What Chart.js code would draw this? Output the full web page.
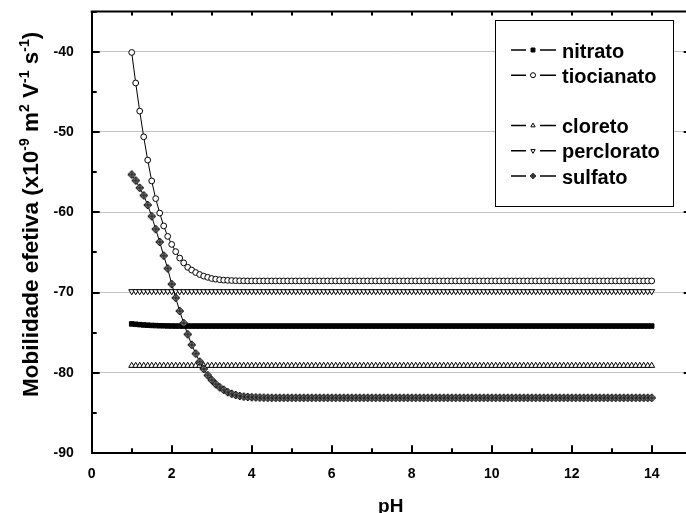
<!DOCTYPE html>
<html>
<head>
<meta charset="utf-8">
<title>Mobilidade efetiva x pH</title>
<script src="https://cdn.jsdelivr.net/npm/chart.js@4.4.1/dist/chart.umd.min.js"></script>
<style>
    html, body { margin: 0; padding: 0; background: #fff; overflow: hidden; }
    canvas { display: block; }
</style>
</head>
<body>
<canvas id="graficoMobilidade" width="700" height="513"></canvas>
<script>
// pH de 1 a 14, passo 0,1
const pH = [
    1.0, 1.1, 1.2, 1.3, 1.4, 1.5, 1.6, 1.7, 1.8, 1.9,
    2.0, 2.1, 2.2, 2.3, 2.4, 2.5, 2.6, 2.7, 2.8, 2.9,
    3.0, 3.1, 3.2, 3.3, 3.4, 3.5, 3.6, 3.7, 3.8, 3.9,
    4.0, 4.1, 4.2, 4.3, 4.4, 4.5, 4.6, 4.7, 4.8, 4.9,
    5.0, 5.1, 5.2, 5.3, 5.4, 5.5, 5.6, 5.7, 5.8, 5.9,
    6.0, 6.1, 6.2, 6.3, 6.4, 6.5, 6.6, 6.7, 6.8, 6.9,
    7.0, 7.1, 7.2, 7.3, 7.4, 7.5, 7.6, 7.7, 7.8, 7.9,
    8.0, 8.1, 8.2, 8.3, 8.4, 8.5, 8.6, 8.7, 8.8, 8.9,
    9.0, 9.1, 9.2, 9.3, 9.4, 9.5, 9.6, 9.7, 9.8, 9.9,
    10.0, 10.1, 10.2, 10.3, 10.4, 10.5, 10.6, 10.7, 10.8, 10.9,
    11.0, 11.1, 11.2, 11.3, 11.4, 11.5, 11.6, 11.7, 11.8, 11.9,
    12.0, 12.1, 12.2, 12.3, 12.4, 12.5, 12.6, 12.7, 12.8, 12.9,
    13.0, 13.1, 13.2, 13.3, 13.4, 13.5, 13.6, 13.7, 13.8, 13.9,
    14.0
];

// mobilidade efetiva (x10^-9 m2 V-1 s-1)
const nitrato = [
    -73.90, -73.95, -73.99, -74.03, -74.06, -74.09, -74.11, -74.13, -74.14, -74.15,
    -74.16, -74.17, -74.17, -74.17, -74.17, -74.17, -74.17, -74.17, -74.17, -74.17,
    -74.17, -74.17, -74.17, -74.17, -74.17, -74.17, -74.17, -74.17, -74.17, -74.17,
    -74.17, -74.17, -74.17, -74.17, -74.17, -74.17, -74.17, -74.17, -74.17, -74.17,
    -74.17, -74.17, -74.17, -74.17, -74.17, -74.17, -74.17, -74.17, -74.17, -74.17,
    -74.17, -74.17, -74.17, -74.17, -74.17, -74.17, -74.17, -74.17, -74.17, -74.17,
    -74.17, -74.17, -74.17, -74.17, -74.17, -74.17, -74.17, -74.17, -74.17, -74.17,
    -74.17, -74.17, -74.17, -74.17, -74.17, -74.17, -74.17, -74.17, -74.17, -74.17,
    -74.17, -74.17, -74.17, -74.17, -74.17, -74.17, -74.17, -74.17, -74.17, -74.17,
    -74.17, -74.17, -74.17, -74.17, -74.17, -74.17, -74.17, -74.17, -74.17, -74.17,
    -74.17, -74.17, -74.17, -74.17, -74.17, -74.17, -74.17, -74.17, -74.17, -74.17,
    -74.17, -74.17, -74.17, -74.17, -74.17, -74.17, -74.17, -74.17, -74.17, -74.17,
    -74.17, -74.17, -74.17, -74.17, -74.17, -74.17, -74.17, -74.17, -74.17, -74.17,
    -74.17
];

const tiocianato = [
    -40.10, -43.90, -47.40, -50.60, -53.50, -56.10, -58.30, -60.10, -61.70, -63.00,
    -64.00, -64.90, -65.70, -66.30, -66.85, -67.20, -67.50, -67.75, -67.95, -68.10,
    -68.25, -68.33, -68.40, -68.45, -68.48, -68.50, -68.52, -68.53, -68.54, -68.55,
    -68.55, -68.55, -68.55, -68.55, -68.55, -68.55, -68.55, -68.55, -68.55, -68.55,
    -68.55, -68.55, -68.55, -68.55, -68.55, -68.55, -68.55, -68.55, -68.55, -68.55,
    -68.55, -68.55, -68.55, -68.55, -68.55, -68.55, -68.55, -68.55, -68.55, -68.55,
    -68.55, -68.55, -68.55, -68.55, -68.55, -68.55, -68.55, -68.55, -68.55, -68.55,
    -68.55, -68.55, -68.55, -68.55, -68.55, -68.55, -68.55, -68.55, -68.55, -68.55,
    -68.55, -68.55, -68.55, -68.55, -68.55, -68.55, -68.55, -68.55, -68.55, -68.55,
    -68.55, -68.55, -68.55, -68.55, -68.55, -68.55, -68.55, -68.55, -68.55, -68.55,
    -68.55, -68.55, -68.55, -68.55, -68.55, -68.55, -68.55, -68.55, -68.55, -68.55,
    -68.55, -68.55, -68.55, -68.55, -68.55, -68.55, -68.55, -68.55, -68.55, -68.55,
    -68.55, -68.55, -68.55, -68.55, -68.55, -68.55, -68.55, -68.55, -68.55, -68.55,
    -68.55
];

const cloreto = [
    -79.1, -79.1, -79.1, -79.1, -79.1, -79.1, -79.1, -79.1, -79.1, -79.1,
    -79.1, -79.1, -79.1, -79.1, -79.1, -79.1, -79.1, -79.1, -79.1, -79.1,
    -79.1, -79.1, -79.1, -79.1, -79.1, -79.1, -79.1, -79.1, -79.1, -79.1,
    -79.1, -79.1, -79.1, -79.1, -79.1, -79.1, -79.1, -79.1, -79.1, -79.1,
    -79.1, -79.1, -79.1, -79.1, -79.1, -79.1, -79.1, -79.1, -79.1, -79.1,
    -79.1, -79.1, -79.1, -79.1, -79.1, -79.1, -79.1, -79.1, -79.1, -79.1,
    -79.1, -79.1, -79.1, -79.1, -79.1, -79.1, -79.1, -79.1, -79.1, -79.1,
    -79.1, -79.1, -79.1, -79.1, -79.1, -79.1, -79.1, -79.1, -79.1, -79.1,
    -79.1, -79.1, -79.1, -79.1, -79.1, -79.1, -79.1, -79.1, -79.1, -79.1,
    -79.1, -79.1, -79.1, -79.1, -79.1, -79.1, -79.1, -79.1, -79.1, -79.1,
    -79.1, -79.1, -79.1, -79.1, -79.1, -79.1, -79.1, -79.1, -79.1, -79.1,
    -79.1, -79.1, -79.1, -79.1, -79.1, -79.1, -79.1, -79.1, -79.1, -79.1,
    -79.1, -79.1, -79.1, -79.1, -79.1, -79.1, -79.1, -79.1, -79.1, -79.1,
    -79.1
];

const perclorato = [
    -69.85, -69.85, -69.85, -69.85, -69.85, -69.85, -69.85, -69.85, -69.85, -69.85,
    -69.85, -69.85, -69.85, -69.85, -69.85, -69.85, -69.85, -69.85, -69.85, -69.85,
    -69.85, -69.85, -69.85, -69.85, -69.85, -69.85, -69.85, -69.85, -69.85, -69.85,
    -69.85, -69.85, -69.85, -69.85, -69.85, -69.85, -69.85, -69.85, -69.85, -69.85,
    -69.85, -69.85, -69.85, -69.85, -69.85, -69.85, -69.85, -69.85, -69.85, -69.85,
    -69.85, -69.85, -69.85, -69.85, -69.85, -69.85, -69.85, -69.85, -69.85, -69.85,
    -69.85, -69.85, -69.85, -69.85, -69.85, -69.85, -69.85, -69.85, -69.85, -69.85,
    -69.85, -69.85, -69.85, -69.85, -69.85, -69.85, -69.85, -69.85, -69.85, -69.85,
    -69.85, -69.85, -69.85, -69.85, -69.85, -69.85, -69.85, -69.85, -69.85, -69.85,
    -69.85, -69.85, -69.85, -69.85, -69.85, -69.85, -69.85, -69.85, -69.85, -69.85,
    -69.85, -69.85, -69.85, -69.85, -69.85, -69.85, -69.85, -69.85, -69.85, -69.85,
    -69.85, -69.85, -69.85, -69.85, -69.85, -69.85, -69.85, -69.85, -69.85, -69.85,
    -69.85, -69.85, -69.85, -69.85, -69.85, -69.85, -69.85, -69.85, -69.85, -69.85,
    -69.85
];

const sulfato = [
    -55.30, -56.05, -56.95, -57.90, -59.10, -60.50, -62.10, -63.70, -65.40, -67.00,
    -68.95, -70.65, -72.30, -73.80, -75.20, -76.50, -77.60, -78.60, -79.50, -80.30,
    -80.90, -81.40, -81.80, -82.10, -82.40, -82.60, -82.75, -82.87, -82.95, -83.00,
    -83.03, -83.05, -83.07, -83.08, -83.09, -83.10, -83.10, -83.10, -83.10, -83.10,
    -83.10, -83.10, -83.10, -83.10, -83.10, -83.10, -83.10, -83.10, -83.10, -83.10,
    -83.10, -83.10, -83.10, -83.10, -83.10, -83.10, -83.10, -83.10, -83.10, -83.10,
    -83.10, -83.10, -83.10, -83.10, -83.10, -83.10, -83.10, -83.10, -83.10, -83.10,
    -83.10, -83.10, -83.10, -83.10, -83.10, -83.10, -83.10, -83.10, -83.10, -83.10,
    -83.10, -83.10, -83.10, -83.10, -83.10, -83.10, -83.10, -83.10, -83.10, -83.10,
    -83.10, -83.10, -83.10, -83.10, -83.10, -83.10, -83.10, -83.10, -83.10, -83.10,
    -83.10, -83.10, -83.10, -83.10, -83.10, -83.10, -83.10, -83.10, -83.10, -83.10,
    -83.10, -83.10, -83.10, -83.10, -83.10, -83.10, -83.10, -83.10, -83.10, -83.10,
    -83.10, -83.10, -83.10, -83.10, -83.10, -83.10, -83.10, -83.10, -83.10, -83.10,
    -83.10
];

const ticksY = [-90, -80, -70, -60, -50, -40];
const ticksX = [0, 2, 4, 6, 8, 10, 12, 14];

const FONTE = '"Liberation Sans", Arial, sans-serif';

// losango com cruz (marcador do sulfato)
function losangoCruzado(r) {
    const c = document.createElement('canvas');
    const s = Math.ceil(2 * r + 2);
    c.width = s;
    c.height = s;
    const g = c.getContext('2d');
    const m = s / 2;
    g.beginPath();
    g.moveTo(m, m - r);
    g.lineTo(m + r, m);
    g.lineTo(m, m + r);
    g.lineTo(m - r, m);
    g.closePath();
    g.fillStyle = '#8c8c8c';
    g.fill();
    g.lineWidth = 1;
    g.strokeStyle = '#111';
    g.stroke();
    g.beginPath();
    g.moveTo(m, m - r);
    g.lineTo(m, m + r);
    g.moveTo(m - r, m);
    g.lineTo(m + r, m);
    g.stroke();
    return c;
}

const marcaSulfato = losangoCruzado(4);
const marcaSulfatoLegenda = losangoCruzado(2.8);

function pontos(valores) {
    return valores.map((v, i) => ({ x: pH[i], y: v }));
}

function serie(rotulo, valores, estilo, fundo, raio, ordem, linhaLegenda) {
    return {
        label: rotulo,
        data: pontos(valores),
        borderColor: '#000',
        borderWidth: 1,
        pointStyle: estilo,
        pointRadius: raio,
        pointBorderWidth: 1,
        pointBorderColor: '#000',
        pointBackgroundColor: fundo,
        tension: 0,
        fill: false,
        order: ordem,
        linhaLegenda: linhaLegenda
    };
}

const datasets = [
    serie('nitrato', nitrato, 'rect', '#000', 3.2, 1, 0),
    serie('tiocianato', tiocianato, 'circle', '#fff', 2.9, 1, 1),
    serie('cloreto', cloreto, 'triangle', '#fff', 3.4, 1, 3),
    serie('perclorato', perclorato, 'triangle', '#fff', 3.4, 1, 4),
    serie('sulfato', sulfato, marcaSulfato, '#8c8c8c', 4, 0, 5)
];
datasets[3].pointRotation = 180;

// moldura, marcas internas dos eixos e títulos
const moldura = {
    id: 'moldura',
    afterDraw(chart) {
        const { ctx, chartArea: a, scales: { x, y } } = chart;
        ctx.save();
        ctx.strokeStyle = '#000';
        ctx.lineWidth = 2;
        ctx.beginPath();
        ctx.moveTo(a.left - 1, a.top);
        ctx.lineTo(a.right, a.top);
        ctx.lineTo(a.right, a.bottom + 1);
        ctx.stroke();

        ctx.lineWidth = 2;
        ctx.beginPath();
        for (let v = 1; v <= 15; v++) {
            const px = Math.round(x.getPixelForValue(v));
            const len = v % 2 === 0 ? 8 : 5;
            ctx.moveTo(px, a.bottom);
            ctx.lineTo(px, a.bottom - len);
            ctx.moveTo(px, a.top);
            ctx.lineTo(px, a.top + 4);
        }
        for (let v = -85; v <= -35; v += 5) {
            const py = Math.round(y.getPixelForValue(v));
            const len = v % 10 === 0 ? 8 : 5;
            ctx.moveTo(a.left, py);
            ctx.lineTo(a.left + len, py);
            ctx.moveTo(a.right, py);
            ctx.lineTo(a.right - len, py);
        }
        ctx.stroke();

        // título do eixo x
        ctx.fillStyle = '#000';
        ctx.font = 'bold 19px ' + FONTE;
        ctx.textAlign = 'center';
        ctx.textBaseline = 'alphabetic';
        ctx.fillText('pH', (a.left + a.right) / 2 - 1, 512);

        // título do eixo y, com expoentes
        const partes = [
            ['Mobilidade efetiva (x10', false], ['-9', true], [' m', false], ['2', true],
            [' V', false], ['-1', true], [' s', false], ['-1', true], [')', false]
        ];
        ctx.translate(37.5, 397);
        ctx.rotate(-Math.PI / 2);
        ctx.textAlign = 'left';
        let pos = 0;
        for (const [texto, sobrescrito] of partes) {
            ctx.font = (sobrescrito ? 'bold 14px ' : 'bold 22.5px ') + FONTE;
            ctx.fillText(texto, pos, sobrescrito ? -9 : 0);
            pos += ctx.measureText(texto).width;
        }
        ctx.restore();
    }
};

// legenda em caixa, com linha em branco entre os grupos
const legendaCaixa = {
    id: 'legendaCaixa',
    afterDraw(chart) {
        const ctx = chart.ctx;
        const x0 = 495.5, y0 = 20.5, larg = 178, alt = 186;
        ctx.save();
        ctx.fillStyle = '#fff';
        ctx.fillRect(x0, y0, larg, alt);
        ctx.strokeStyle = '#000';
        ctx.lineWidth = 1;
        ctx.strokeRect(x0, y0, larg, alt);

        const mx = 533;
        chart.data.datasets.forEach(ds => {
            const base = y0 + 37 + ds.linhaLegenda * 25.2;
            const ym = base - 7.5;
            ctx.strokeStyle = '#000';
            ctx.lineWidth = 1.5;
            ctx.beginPath();
            ctx.moveTo(mx - 22, ym);
            ctx.lineTo(mx - 7, ym);
            ctx.moveTo(mx + 7, ym);
            ctx.lineTo(mx + 23, ym);
            ctx.stroke();

            ctx.lineWidth = 1;
            ctx.fillStyle = ds.pointBackgroundColor;
            ctx.strokeStyle = '#000';
            const estilo = ds.pointStyle === marcaSulfato ? marcaSulfatoLegenda : ds.pointStyle;
            Chart.helpers.drawPoint(ctx, {
                pointStyle: estilo,
                radius: ds.pointStyle === 'rect' ? 2.8 : 2.5,
                rotation: ds.pointRotation || 0,
                borderWidth: 1
            }, mx, ym);

            ctx.fillStyle = '#000';
            ctx.font = 'bold 20px ' + FONTE;
            ctx.textAlign = 'left';
            ctx.textBaseline = 'alphabetic';
            ctx.fillText(ds.label, 562, base);
        });
        ctx.restore();
    }
};

const ctx = document.getElementById('graficoMobilidade').getContext('2d');

new Chart(ctx, {
    type: 'line',
    data: { datasets: datasets },
    options: {
        responsive: false,
        animation: false,
        devicePixelRatio: 1,
        layout: { padding: { left: 0, right: 8.3, top: 11.5, bottom: 0 } },
        plugins: {
            legend: { display: false },
            tooltip: { enabled: false }
        },
        scales: {
            x: {
                type: 'linear',
                min: 0,
                max: 15,
                afterBuildTicks: s => { s.ticks = ticksX.map(v => ({ value: v })); },
                afterFit: s => {
                    s.height = 59.8;
                    s.paddingLeft = 0;
                    s.paddingRight = 0;
                },
                grid: { display: false, drawTicks: false },
                border: { display: true, color: '#000', width: 2 },
                ticks: {
                    color: '#000',
                    padding: 13,
                    maxRotation: 0,
                    font: { family: FONTE, size: 14, weight: 'bold' }
                }
            },
            y: {
                type: 'linear',
                min: -90,
                max: -35,
                afterBuildTicks: s => { s.ticks = ticksY.map(v => ({ value: v })); },
                afterFit: s => {
                    s.width = 91.7;
                    s.paddingTop = 0;
                    s.paddingBottom = 0;
                },
                grid: { color: '#c4c4c4', lineWidth: 1, drawTicks: false },
                border: { display: true, color: '#000', width: 2 },
                ticks: {
                    color: '#000',
                    padding: 18,
                    font: { family: FONTE, size: 14, weight: 'bold' }
                }
            }
        }
    },
    plugins: [moldura, legendaCaixa]
});
</script>
</body>
</html>
